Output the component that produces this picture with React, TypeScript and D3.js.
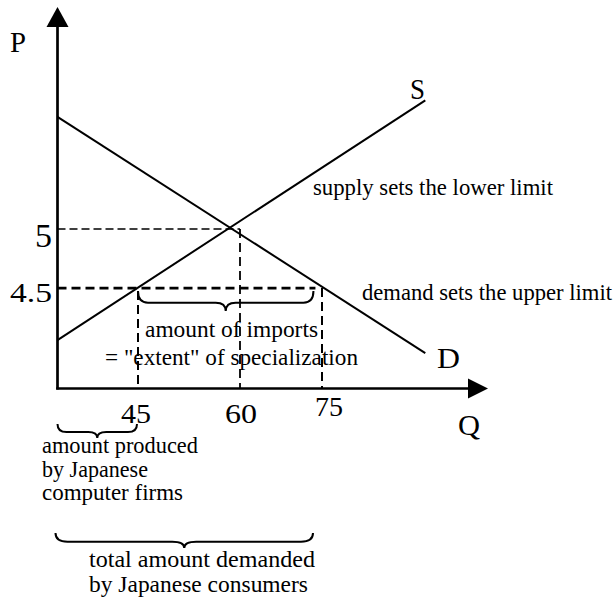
import React from "react";
import * as d3 from "d3";

// ---- data ----
const Q_BREAKS = [32, 45, 60, 75, 102]; // quantity axis from origin to arrow tip
const P_RANGE = [3.65, 6.88]; // price axis from origin to arrow tip
const Q_TICKS = [45, 60, 75];
const Q_TICK_LABELS = ["45", "60", "75"];
const P_TICKS = [5, 4.5];
const P_TICK_LABELS = ["5", "4.5"];
const SUPPLY_Q = [32, 91.8];
const SUPPLY_P = [4.06, 6.09];
const DEMAND_Q = [32, 91.8];
const DEMAND_P = [5.95, 3.95];
const EQ_Q = 60;
const EQ_P = 5;
const WORLD_P = 4.5;
const DOMESTIC_SUPPLY_Q = 45;
const DOMESTIC_DEMAND_Q = 75;
const WORLD_LINE_END_Q = 73.8;

const FONT = "'Liberation Serif', 'Times New Roman', Times, serif";

function brace(x1: number, x2: number, y0: number, h: number, q = 10) {
  const m = (x1 + x2) / 2;
  const y1 = y0 + h * 0.58;
  const t = y0 + h;
  return `M${x1},${y0} Q${x1},${y1} ${x1 + q},${y1} L${m - q},${y1} Q${m},${y1} ${m},${t} Q${m},${y1} ${m + q},${y1} L${x2 - q},${y1} Q${x2},${y1} ${x2},${y0}`;
}

export default function App() {
  const W = 615;
  const H = 602;
  const x = d3.scaleLinear().domain(Q_BREAKS).range([57.5, 138, 240, 322, 488]);
  const y = d3.scaleLinear().domain(P_RANGE).range([388.5, 7]);
  const line = d3
    .line<[number, number]>()
    .x((d) => x(d[0]))
    .y((d) => y(d[1]));

  const supply: [number, number][] = SUPPLY_Q.map((q, i) => [q, SUPPLY_P[i]]);
  const demand: [number, number][] = DEMAND_Q.map((q, i) => [q, DEMAND_P[i]]);

  const x0 = x(Q_BREAKS[0]);
  const y0 = y(P_RANGE[0]);
  const xTip = x(Q_BREAKS[Q_BREAKS.length - 1]);
  const yTip = y(P_RANGE[1]);

  const qLabelDx = [-2, 1, 7];
  const qLabelY = [423, 423, 416];
  const qLabelW = [30, 32, 28];
  const pLabelSize = [34, 28];
  const pLabelW = [17, 42];

  const small = 22.5;
  const notes = [
    { t: "supply sets the lower limit", x: 313, y: 195, w: 240 },
    { t: "demand sets the upper limit", x: 362, y: 300, w: 250 },
    { t: "amount of imports", x: 145, y: 337, w: 173 },
    { t: '= "extent" of specialization', x: 105, y: 365, w: 253 },
    { t: "amount produced", x: 42, y: 453, w: 156 },
    { t: "by Japanese", x: 42, y: 476.5, w: 106 },
    { t: "computer firms", x: 42, y: 500, w: 141 },
    { t: "total amount demanded", x: 89, y: 567, w: 226 },
    { t: "by Japanese consumers", x: 89, y: 592, w: 219 },
  ];

  return (
    <svg
      width={W}
      height={H}
      style={{ position: "absolute", left: 0, top: 0, background: "#fff" }}
      fontFamily={FONT}
    >
      <rect width={W} height={H} fill="#fff" />

      {/* dashed guide lines */}
      <line x1={x0} x2={x(EQ_Q)} y1={y(EQ_P)} y2={y(EQ_P)} stroke="#000" strokeWidth={1.6} strokeDasharray="8,4" />
      <line x1={x(EQ_Q)} x2={x(EQ_Q)} y1={y(EQ_P)} y2={y0} stroke="#000" strokeWidth={1.8} strokeDasharray="9,5" />
      <line x1={x0} x2={x(WORLD_LINE_END_Q)} y1={y(WORLD_P)} y2={y(WORLD_P)} stroke="#000" strokeWidth={2.6} strokeDasharray="9,5" />
      <line x1={x(DOMESTIC_SUPPLY_Q)} x2={x(DOMESTIC_SUPPLY_Q)} y1={y(WORLD_P) + 3} y2={y0} stroke="#000" strokeWidth={2} strokeDasharray="9,5" />
      <line x1={x(DOMESTIC_DEMAND_Q)} x2={x(DOMESTIC_DEMAND_Q)} y1={y(WORLD_P)} y2={y0} stroke="#000" strokeWidth={2} strokeDasharray="9,5" />

      {/* supply and demand */}
      <path d={line(supply) || ""} stroke="#000" strokeWidth={2} fill="none" />
      <path d={line(demand) || ""} stroke="#000" strokeWidth={2} fill="none" />

      {/* axes */}
      <line x1={x0} x2={x0} y1={y0 + 1} y2={yTip + 20} stroke="#000" strokeWidth={2.7} />
      <path d={`M${x0 - 11},${yTip + 20} L${x0 + 11},${yTip + 20} L${x0},${yTip} Z`} fill="#000" />
      <line x1={x0 - 1.3} x2={xTip - 20} y1={y0} y2={y0} stroke="#000" strokeWidth={2.7} />
      <path d={`M${xTip - 20},${y0 - 10} L${xTip - 20},${y0 + 10} L${xTip},${y0} Z`} fill="#000" />

      {/* braces */}
      <path d={brace(x(DOMESTIC_SUPPLY_Q), x(WORLD_LINE_END_Q) - 2, y(WORLD_P) + 3, 20)} stroke="#000" strokeWidth={2} fill="none" />
      <path d={brace(x0, x(DOMESTIC_SUPPLY_Q) - 1, 424, 14, 9)} stroke="#000" strokeWidth={2} fill="none" />
      <path d={brace(x0 - 2, x(DOMESTIC_DEMAND_Q) - 9, 533, 15, 12)} stroke="#000" strokeWidth={2} fill="none" />

      {/* axis titles & curve labels */}
      <text x={10} y={52} fontSize={30} textLength={16} lengthAdjust="spacingAndGlyphs">P</text>
      <text x={458} y={435} fontSize={30} textLength={22} lengthAdjust="spacingAndGlyphs">Q</text>
      <text x={410} y={99} fontSize={30} textLength={15} lengthAdjust="spacingAndGlyphs">S</text>
      <text x={437} y={367.5} fontSize={29} textLength={23} lengthAdjust="spacingAndGlyphs">D</text>

      {/* tick labels */}
      {P_TICKS.map((p, i) => (
        <text
          key={"p" + i}
          x={52}
          y={y(p) + (i === 0 ? 18 : 14)}
          fontSize={pLabelSize[i]}
          textAnchor="end"
          textLength={pLabelW[i]}
          lengthAdjust="spacingAndGlyphs"
        >
          {P_TICK_LABELS[i]}
        </text>
      ))}
      {Q_TICKS.map((q, i) => (
        <text
          key={"q" + i}
          x={x(q) + qLabelDx[i]}
          y={qLabelY[i]}
          fontSize={27}
          textAnchor="middle"
          textLength={qLabelW[i]}
          lengthAdjust="spacingAndGlyphs"
        >
          {Q_TICK_LABELS[i]}
        </text>
      ))}

      {/* annotations */}
      {notes.map((n, i) => (
        <text key={"n" + i} x={n.x} y={n.y} fontSize={small} textLength={n.w} lengthAdjust="spacingAndGlyphs">
          {n.t}
        </text>
      ))}
    </svg>
  );
}
